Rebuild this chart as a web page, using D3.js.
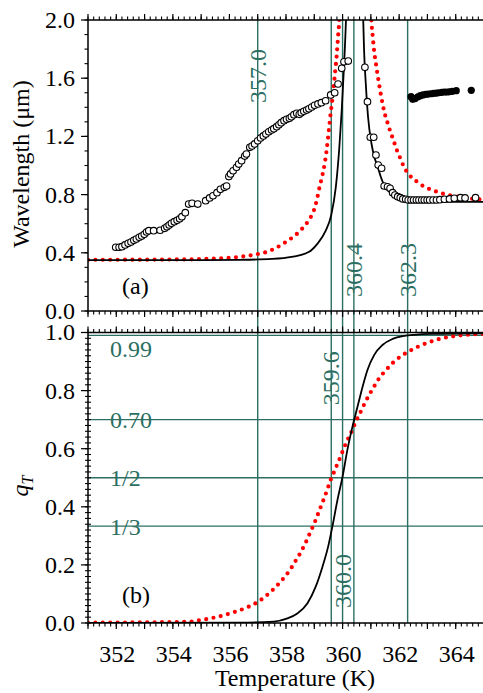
<!DOCTYPE html>
<html><head><meta charset="utf-8">
<script src="https://cdn.jsdelivr.net/npm/d3@7"></script>
<style>
html,body{margin:0;padding:0;background:#fff;}
svg{display:block;}
</style></head>
<body>
<svg id="chart" width="483" height="693"></svg>
<script>
// ---------------- data ----------------
const tempTicks = [352, 354, 356, 358, 360, 362, 364];
const waveTicks = [0.0, 0.4, 0.8, 1.2, 1.6, 2.0];
const qTicks = [0.0, 0.2, 0.4, 0.6, 0.8, 1.0];

// characteristic temperatures (vertical lines)
const markTemps = [357.0, 359.6, 360.0, 360.4, 362.3];
// q levels (horizontal lines in panel b)
const qLevels = [0.99, 0.70, 0.5, 1 / 3];
const qLevelLabels = ["0.99", "0.70", "1/2", "1/3"];

// measured wavelength (open circles), [T (K), wavelength (um)]
const openLeft = [[351.98,0.438],[352.10,0.438],[352.20,0.442],[352.31,0.454],[352.42,0.465],[352.52,0.474],[352.62,0.486],[352.71,0.495],[352.81,0.507],[352.90,0.515],[352.99,0.527],[353.07,0.543],[353.15,0.552],[353.32,0.552],[353.55,0.555],[353.71,0.568],[353.79,0.579],[353.87,0.591],[353.95,0.603],[354.05,0.614],[354.15,0.623],[354.24,0.634],[354.32,0.648],[354.44,0.676],[354.56,0.735],[354.68,0.740],[354.88,0.735],[355.16,0.758],[355.30,0.777],[355.42,0.792],[355.56,0.813],[355.68,0.836],[355.82,0.850],[355.90,0.859],[355.98,0.924],[356.04,0.942],[356.13,0.964],[356.25,0.988],[356.33,1.010],[356.43,1.033],[356.54,1.065],[356.60,1.079],[356.72,1.125],[356.80,1.134],[356.89,1.148],[357.00,1.170],[357.10,1.189],[357.20,1.203],[357.29,1.216],[357.39,1.232],[357.49,1.244],[357.57,1.253],[357.67,1.267],[357.75,1.280],[357.83,1.294],[357.93,1.308],[358.02,1.318],[358.12,1.324],[358.19,1.335],[358.28,1.349],[358.38,1.359],[358.47,1.352],[358.54,1.363],[358.63,1.373],[358.73,1.381],[358.81,1.390],[358.91,1.402],[359.01,1.414],[359.13,1.423],[359.25,1.432],[359.40,1.445],[359.58,1.485],[359.72,1.500],[359.84,1.560],[359.97,1.668],[360.05,1.713],[360.20,1.718]];
const openRight = [[360.79,1.675],[360.88,1.439],[360.98,1.194],[361.10,1.194],[361.18,1.072],[361.26,1.003],[361.38,0.981],[361.47,0.859],[361.59,0.854],[361.68,0.843],[361.77,0.813],[361.85,0.797],[361.95,0.786],[362.04,0.779],[362.13,0.770],[362.23,0.768],[362.32,0.763],[362.42,0.763],[362.51,0.763],[362.61,0.763],[362.70,0.763],[362.80,0.763],[362.89,0.763],[362.99,0.763],[363.08,0.763],[363.20,0.763],[363.32,0.763],[363.44,0.765],[363.60,0.768],[363.78,0.770],[363.95,0.775],[364.17,0.779],[364.33,0.777],[364.70,0.779]];
// filled circles
const filledPts = [[362.42,1.473],[362.48,1.455],[362.56,1.459],[362.66,1.471],[362.75,1.480],[362.84,1.485],[362.94,1.489],[363.03,1.491],[363.13,1.493],[363.22,1.496],[363.32,1.498],[363.41,1.500],[363.51,1.503],[363.60,1.505],[363.70,1.505],[363.79,1.507],[363.88,1.510],[364.02,1.514],[364.55,1.517]];

// model wavelength, black solid
const blackWaveLeft = [[351,0.350],[355,0.350],[356.4,0.352],[357.5,0.358],[358.2,0.372],[358.8,0.405],[359.1,0.46],[359.4,0.55],[359.6,0.66],[359.76,0.85],[359.88,1.11],[359.97,1.38],[360.05,1.68],[360.12,2.0],[360.15,2.2]];
const blackWaveRight = [[360.71,2.2],[360.73,2.0],[360.76,1.794],[360.82,1.565],[360.90,1.335],[361.02,1.153],[361.12,1.060],[361.24,0.992],[361.35,0.923],[361.47,0.866],[361.65,0.820],[361.83,0.792],[362.06,0.770],[362.42,0.756],[363.01,0.751],[365,0.750]];
// model wavelength, red dotted
const redWaveLeft = [[351,0.352],[354,0.354],[355.5,0.36],[356.39,0.373],[356.65,0.380],[356.96,0.390],[357.24,0.401],[357.55,0.424],[357.83,0.454],[358.10,0.488],[358.34,0.522],[358.58,0.568],[358.81,0.625],[358.99,0.694],[359.09,0.763],[359.19,0.854],[359.29,0.935],[359.37,1.015],[359.43,1.095],[359.48,1.18],[359.53,1.27],[359.58,1.36],[359.63,1.44],[359.67,1.51],[359.71,1.59],[359.75,1.67],[359.79,1.75],[359.82,1.83],[359.85,1.91],[359.88,1.99],[359.90,2.1]];
const redWaveRight = [[361.0,2.1],[361.02,2.0],[361.07,1.88],[361.12,1.78],[361.18,1.70],[361.24,1.62],[361.30,1.55],[361.36,1.48],[361.43,1.41],[361.50,1.35],[361.58,1.30],[361.66,1.25],[361.75,1.20],[361.84,1.15],[361.93,1.10],[362.04,1.05],[362.17,0.99],[362.36,0.935],[362.63,0.889],[362.89,0.854],[363.19,0.830],[363.48,0.810],[363.74,0.797],[364.07,0.786],[364.43,0.775],[364.78,0.768],[365.0,0.765]];

// q_T curves
const blackQ = [[351,0.0],[356.39,0.001],[357.57,0.005],[358.05,0.016],[358.40,0.033],[358.76,0.068],[359.05,0.125],[359.29,0.194],[359.49,0.263],[359.64,0.332],[359.82,0.424],[360.00,0.504],[360.17,0.596],[360.35,0.676],[360.53,0.745],[360.71,0.814],[360.88,0.871],[361.12,0.923],[361.41,0.957],[361.77,0.978],[362.18,0.988],[362.54,0.992],[363.13,0.995],[365,0.997]];
const redQ = [[351,0.001],[354.5,0.004],[354.97,0.010],[355.33,0.016],[355.62,0.022],[355.92,0.030],[356.21,0.039],[356.68,0.056],[356.98,0.071],[357.24,0.089],[357.51,0.112],[357.77,0.138],[357.99,0.163],[358.19,0.190],[358.34,0.214],[358.52,0.243],[358.66,0.270],[358.76,0.290],[358.87,0.315],[359.01,0.345],[359.13,0.375],[359.25,0.405],[359.37,0.435],[359.49,0.468],[359.58,0.493],[359.70,0.520],[359.82,0.548],[359.94,0.575],[360.03,0.598],[360.15,0.625],[360.29,0.653],[360.41,0.680],[360.53,0.706],[360.67,0.733],[360.79,0.758],[360.94,0.785],[361.12,0.815],[361.29,0.842],[361.53,0.870],[361.77,0.895],[362.06,0.918],[362.36,0.936],[362.66,0.951],[362.95,0.963],[363.22,0.972],[363.48,0.979],[363.78,0.985],[364.07,0.989],[364.37,0.992],[364.66,0.994],[364.90,0.995],[365,0.996]];

// ---------------- layout ----------------
const GREEN = "#2c6f62";
const RED = "#ff0000";
const FONT = 24;
const svg = d3.select("#chart");
const L = 88, R = 484;
const topA = 20, botA = 311, topB = 332.5, botB = 623;

const x = d3.scaleLinear().domain([351, 365]).range([L, R]);
const yA = d3.scaleLinear().domain([0, 2]).range([botA, topA]);
const yB = d3.scaleLinear().domain([0, 1]).range([botB, topB]);

const defs = svg.append("defs");
defs.append("clipPath").attr("id", "clipA").append("rect")
  .attr("x", L).attr("y", topA).attr("width", R - L).attr("height", botA - topA);
defs.append("clipPath").attr("id", "clipB").append("rect")
  .attr("x", L).attr("y", topB).attr("width", R - L).attr("height", botB - topB);

// ---- green reference lines ----
svg.append("g").selectAll("line").data(markTemps).join("line")
  .attr("x1", d => x(d)).attr("x2", d => x(d))
  .attr("y1", topA).attr("y2", botB)
  .attr("stroke", GREEN).attr("stroke-width", 1.4);

svg.append("g").selectAll("line").data(qLevels).join("line")
  .attr("x1", L).attr("x2", R)
  .attr("y1", d => yB(d)).attr("y2", d => yB(d))
  .attr("stroke", GREEN).attr("stroke-width", 1.4);

// ---- curves ----
const lineA = d3.line().x(d => x(d[0])).y(d => yA(d[1])).curve(d3.curveMonotoneX);
const lineB = d3.line().x(d => x(d[0])).y(d => yB(d[1])).curve(d3.curveMonotoneX);

const gA = svg.append("g").attr("clip-path", "url(#clipA)");
const gB = svg.append("g").attr("clip-path", "url(#clipB)");

function dotted(g, data, gen) {
  g.append("path").datum(data).attr("d", gen)
    .attr("fill", "none").attr("stroke", RED).attr("stroke-width", 4.2)
    .attr("stroke-linecap", "round").attr("stroke-dasharray", "0 7.4");
}
function solid(g, data, gen) {
  g.append("path").datum(data).attr("d", gen)
    .attr("fill", "none").attr("stroke", "#000").attr("stroke-width", 1.8);
}

dotted(gA, redWaveLeft, lineA);
dotted(gA, redWaveRight, lineA);
solid(gA, blackWaveLeft, lineA);
solid(gA, blackWaveRight, lineA);

gA.append("g").selectAll("circle").data(openLeft.concat(openRight)).join("circle")
  .attr("cx", d => x(d[0])).attr("cy", d => yA(d[1])).attr("r", 3.3)
  .attr("fill", "#fff").attr("stroke", "#000").attr("stroke-width", 1.1);
gA.append("g").selectAll("circle").data(filledPts).join("circle")
  .attr("cx", d => x(d[0])).attr("cy", d => yA(d[1])).attr("r", 3.6)
  .attr("fill", "#000");

dotted(gB, redQ, lineB);
solid(gB, blackQ, lineB);

// ---- frames ----
[[topA, botA], [topB, botB]].forEach(([t, b]) => {
  svg.append("rect").attr("x", L).attr("y", t).attr("width", R - L).attr("height", b - t)
    .attr("fill", "none").attr("stroke", "#000").attr("stroke-width", 1.5);
});

// ---- ticks ----
function range(a, b, s) { const r = []; for (let v = a; v <= b + 1e-9; v += s) r.push(+v.toFixed(4)); return r; }
const xMinor = range(351, 365, 0.2);
const xMid = range(351, 365, 1);

function xTicks(yPos, dir) {
  const g = svg.append("g");
  g.selectAll("line.mi").data(xMinor).join("line")
    .attr("x1", d => x(d)).attr("x2", d => x(d))
    .attr("y1", yPos).attr("y2", yPos + dir * 3.5)
    .attr("stroke", "#000").attr("stroke-width", 1.1);
  g.selectAll("line.ma").data(xMid).join("line")
    .attr("x1", d => x(d)).attr("x2", d => x(d))
    .attr("y1", yPos).attr("y2", yPos + dir * 6)
    .attr("stroke", "#000").attr("stroke-width", 1.2);
}
xTicks(topA, -1);
xTicks(botA, 1);
xTicks(topB, -1);
xTicks(botB, 1);

// y ticks panel a
const gya = svg.append("g");
gya.selectAll("line.mi").data(range(0, 2, 0.1)).join("line")
  .attr("x1", L - 3.5).attr("x2", L).attr("y1", d => yA(d)).attr("y2", d => yA(d))
  .attr("stroke", "#000").attr("stroke-width", 1.1);
gya.selectAll("line.ma").data(waveTicks).join("line")
  .attr("x1", L - 7).attr("x2", L).attr("y1", d => yA(d)).attr("y2", d => yA(d))
  .attr("stroke", "#000").attr("stroke-width", 1.2);
gya.selectAll("text").data(waveTicks).join("text")
  .attr("x", 75).attr("y", d => yA(d)).attr("dy", "0.33em")
  .attr("text-anchor", "end").attr("font-size", FONT)
  .text(d => d.toFixed(1));

// y ticks panel b
const gyb = svg.append("g");
gyb.selectAll("line.mi").data(range(0, 1, 0.02)).join("line")
  .attr("x1", L - 3).attr("x2", L + 3).attr("y1", d => yB(d)).attr("y2", d => yB(d))
  .attr("stroke", "#000").attr("stroke-width", 1.1);
gyb.selectAll("line.ma").data(qTicks).join("line")
  .attr("x1", L - 7).attr("x2", L).attr("y1", d => yB(d)).attr("y2", d => yB(d))
  .attr("stroke", "#000").attr("stroke-width", 1.2);
gyb.selectAll("text").data(qTicks).join("text")
  .attr("x", 75).attr("y", d => yB(d)).attr("dy", "0.33em")
  .attr("text-anchor", "end").attr("font-size", FONT)
  .text(d => d.toFixed(1));

// x tick labels
svg.append("g").selectAll("text").data(tempTicks).join("text")
  .attr("x", d => x(d) + 1).attr("y", 662)
  .attr("text-anchor", "middle").attr("font-size", FONT)
  .text(d => d);

// ---- axis titles ----
svg.append("text").attr("transform", "translate(29,164) rotate(-90)")
  .attr("text-anchor", "middle").attr("font-size", FONT)
  .text("Wavelength (μm)");
const qt = svg.append("text").attr("transform", "translate(28,486) rotate(-90)")
  .attr("text-anchor", "middle").attr("font-size", FONT);
qt.append("tspan").attr("font-style", "italic").text("q");
qt.append("tspan").attr("font-style", "italic").attr("font-size", 16).attr("dy", 5).text("T");
svg.append("text").attr("x", 295).attr("y", 686)
  .attr("text-anchor", "middle").attr("font-size", FONT)
  .text("Temperature (K)");

// panel labels
svg.append("text").attr("x", 122).attr("y", 294).attr("font-size", FONT).text("(a)");
svg.append("text").attr("x", 122).attr("y", 603).attr("font-size", FONT).text("(b)");

// ---- green annotation labels ----
const vLabels = [
  { t: 357.0, y: yA(1.43) },
  { t: 360.4, y: yA(0.096) },
  { t: 362.3, y: yA(0.096) },
  { t: 359.6, y: yB(0.75) },
  { t: 360.0, y: yB(0.052) }
];
svg.append("g").selectAll("text").data(vLabels).join("text")
  .attr("transform", d => `translate(${x(d.t) + 8},${d.y}) rotate(-90)`)
  .attr("font-size", FONT).attr("fill", GREEN)
  .text(d => d.t.toFixed(1));

const hOffsets = [21.5, 8.5, 8.5, 8.5];
svg.append("g").selectAll("text").data(qLevels).join("text")
  .attr("x", 110).attr("y", (d, i) => yB(d) + hOffsets[i])
  .attr("font-size", FONT).attr("fill", GREEN)
  .text((d, i) => qLevelLabels[i]);

// font for every text
svg.selectAll("text").style("font-family", "'Liberation Serif'");
</script>
</body></html>
